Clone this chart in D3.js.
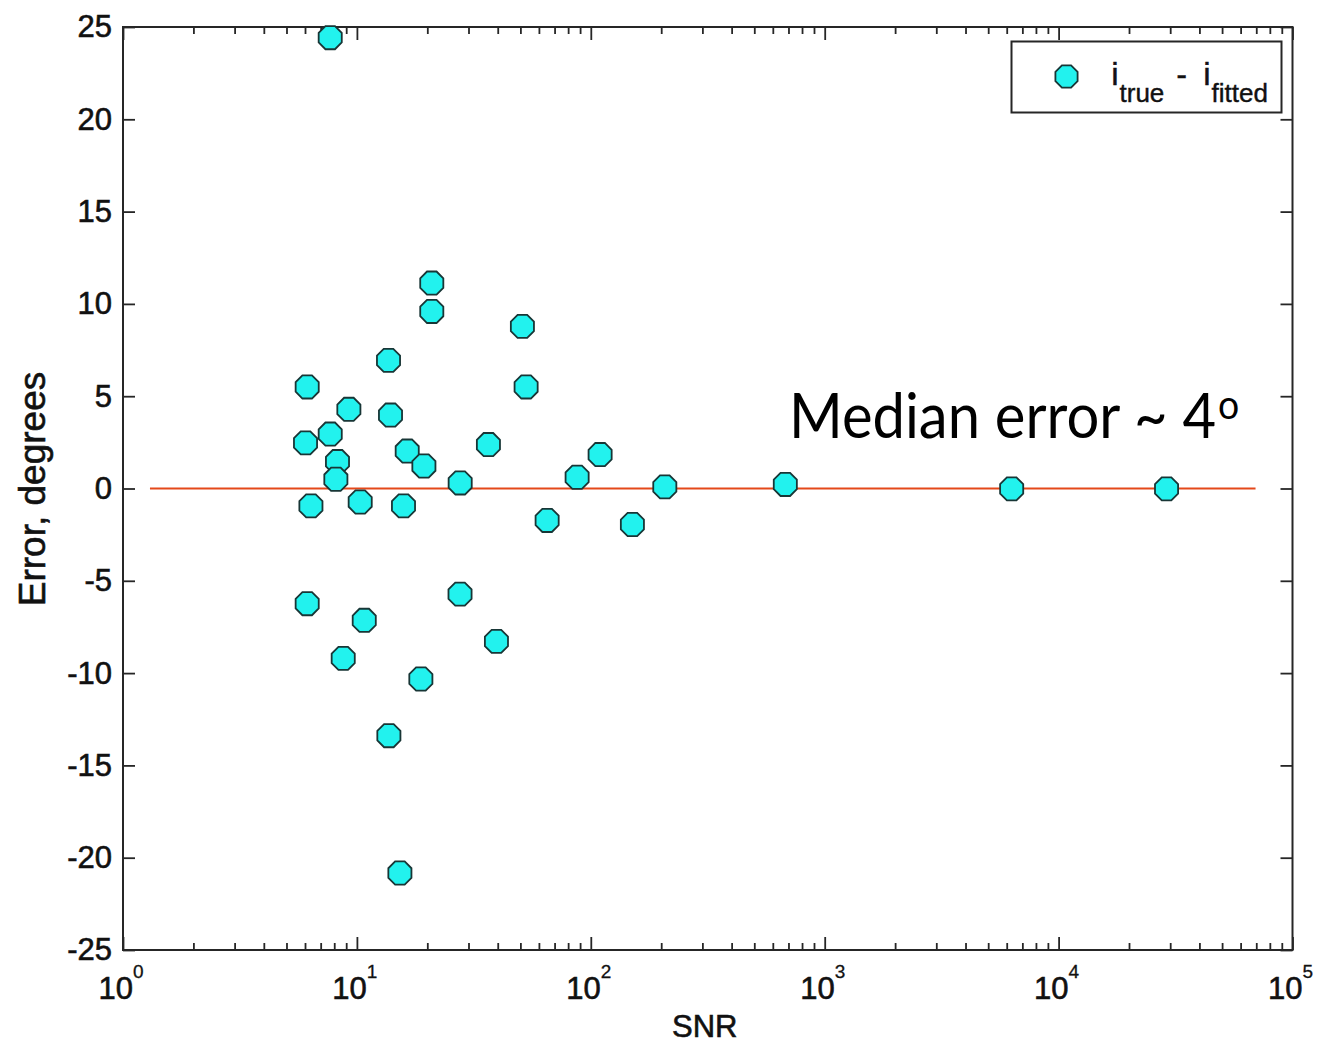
<!DOCTYPE html>
<html>
<head>
<meta charset="utf-8">
<script src="https://cdn.jsdelivr.net/npm/d3@7"></script>
<style>
  body { margin: 0; background: #fff; }
  svg { display: block; }
</style>
</head>
<body>
<svg id="chart" width="1319" height="1046"></svg>
<script>
// Inclination error versus signal-to-noise ratio
const snr = [7.69, 20.9, 20.9, 51.0, 13.65, 6.13, 52.9, 9.24, 13.92, 7.69,
             6.03, 36.5, 16.41, 109.6, 8.26, 19.34, 8.13, 87.4, 27.64, 207.2,
             678.6, 6300, 28940, 6.36, 10.33, 15.82, 65.06, 150.6, 6.13, 27.6,
             10.75, 39.5, 8.74, 18.77, 13.70, 15.27];
const err = [24.42, 11.13, 9.59, 8.78, 6.94, 5.50, 5.50, 4.29, 3.98, 2.95,
             2.47, 2.38, 2.03, 1.84, 1.46, 1.22, 0.50, 0.61, 0.30, 0.09,
             0.22, -0.02, -0.02, -0.94, -0.73, -0.94, -1.73, -1.95, -6.24, -5.72,
             -7.14, -8.28, -9.20, -10.32, -13.39, -20.83];

// zero-error reference line
const lineSnr = [1.304, 69500];
const lineErr = [0, 0];

const xTickValues = [1, 10, 100, 1000, 10000, 100000];
const xTickExponents = ["0", "1", "2", "3", "4", "5"];
const yTickValues = [-25, -20, -15, -10, -5, 0, 5, 10, 15, 20, 25];

const svg = d3.select("#chart");
const plotL = 123, plotR = 1292.5, plotT = 27, plotB = 950;

const x = d3.scaleLog().domain([1, 1e5]).range([plotL, plotR]);
const y = d3.scaleLinear().domain([-25, 25]).range([plotB, plotT]);

const axisColor = "#262626";
const textColor = "#111";
const tickFont = "'Liberation Sans', Arial, sans-serif";

// slightly heavier glyphs for axis text
function heavy(sel, w) {
  sel.attr("stroke", textColor).attr("stroke-width", w).attr("paint-order", "stroke");
}

// minor ticks at 2..9 within each decade
const minorTicks = [];
for (let e = 0; e < 5; e++) for (let k = 2; k <= 9; k++) minorTicks.push(k * Math.pow(10, e));

function styleAxis(sel) {
  sel.select(".domain").remove();
  sel.selectAll(".tick line").attr("stroke", axisColor).attr("stroke-width", 1.8);
  sel.selectAll(".tick text").attr("font-family", tickFont).attr("font-size", 31)
    .attr("fill", textColor).call(heavy, 0.6);
}

// bottom / top axes (ticks point inward)
svg.append("g").attr("transform", `translate(0,${plotB})`)
  .call(d3.axisBottom(x).tickValues(xTickValues).tickSize(-13).tickSizeOuter(0).tickFormat(() => ""))
  .call(styleAxis);
svg.append("g").attr("transform", `translate(0,${plotB})`)
  .call(d3.axisBottom(x).tickValues(minorTicks).tickSize(-7).tickSizeOuter(0).tickFormat(() => ""))
  .call(styleAxis);
svg.append("g").attr("transform", `translate(0,${plotT})`)
  .call(d3.axisTop(x).tickValues(xTickValues).tickSize(-13).tickSizeOuter(0).tickFormat(() => ""))
  .call(styleAxis);
svg.append("g").attr("transform", `translate(0,${plotT})`)
  .call(d3.axisTop(x).tickValues(minorTicks).tickSize(-7).tickSizeOuter(0).tickFormat(() => ""))
  .call(styleAxis);

// left / right axes
svg.append("g").attr("transform", `translate(${plotL},0)`)
  .call(d3.axisLeft(y).tickValues(yTickValues).tickSize(-12).tickSizeOuter(0).tickPadding(11)
    .tickFormat(d => String(d)))
  .call(styleAxis);
svg.append("g").attr("transform", `translate(${plotR},0)`)
  .call(d3.axisRight(y).tickValues(yTickValues).tickSize(-12).tickSizeOuter(0).tickFormat(() => ""))
  .call(styleAxis);

// axes box
svg.append("rect")
  .attr("x", plotL).attr("y", plotT)
  .attr("width", plotR - plotL).attr("height", plotB - plotT)
  .attr("fill", "none").attr("stroke", axisColor).attr("stroke-width", 2);

// x tick labels as powers of ten
const xl = svg.append("g").attr("font-family", tickFont).attr("fill", textColor);
xTickValues.forEach((v, i) => {
  const t = xl.append("text")
    .attr("x", x(v) - 2).attr("y", plotB + 49)
    .attr("text-anchor", "middle");
  t.append("tspan").attr("font-size", 31).call(heavy, 0.6).text("10");
  t.append("tspan").attr("font-size", 19).attr("dy", -21).call(heavy, 0.3).text(xTickExponents[i]);
});

// axis titles
svg.append("text")
  .attr("x", (plotL + plotR) / 2 - 3).attr("y", 1037)
  .attr("text-anchor", "middle")
  .attr("font-family", tickFont).attr("font-size", 31).attr("fill", textColor)
  .call(heavy, 0.6)
  .text("SNR");
svg.append("text")
  .attr("transform", `translate(45,489) rotate(-90)`)
  .attr("text-anchor", "middle")
  .attr("font-family", tickFont).attr("font-size", 37).attr("fill", textColor)
  .call(heavy, 0.6)
  .text("Error, degrees");

// reference line
svg.append("path")
  .datum(lineSnr.map((s, i) => [s, lineErr[i]]))
  .attr("d", d3.line().x(d => x(d[0])).y(d => y(d[1])))
  .attr("fill", "none").attr("stroke", "#e4481a").attr("stroke-width", 2);

// octagonal markers
function octagon(r) {
  const pts = d3.range(8).map(i => {
    const a = Math.PI / 8 + i * Math.PI / 4;
    return [r * Math.cos(a), r * Math.sin(a)];
  });
  return "M" + pts.map(p => p[0].toFixed(2) + "," + p[1].toFixed(2)).join("L") + "Z";
}
const markerPath = octagon(12.5);
const markerFill = "#22f2ee", markerStroke = "#183636";

svg.append("g").selectAll("path")
  .data(snr.map((s, i) => [s, err[i]]))
  .join("path")
  .attr("d", markerPath)
  .attr("transform", d => `translate(${x(d[0])},${y(d[1])})`)
  .attr("fill", markerFill).attr("stroke", markerStroke).attr("stroke-width", 1.8);

// annotation
const ann = svg.append("text")
  .attr("transform", "translate(789,438) scale(0.935,1)")
  .attr("font-family", "Lato, 'Open Sans', sans-serif").attr("font-size", 62).attr("fill", "#000");
ann.append("tspan").text("Median error ~ 4");
ann.append("tspan").attr("font-size", 40).attr("dy", -19).attr("dx", 2).text("o");

// legend
const lg = svg.append("g").attr("transform", "translate(1011.5,41.5)");
lg.append("rect").attr("width", 270).attr("height", 71)
  .attr("fill", "#fff").attr("stroke", axisColor).attr("stroke-width", 2);
lg.append("path").attr("d", octagon(12)).attr("transform", "translate(55,35)")
  .attr("fill", markerFill).attr("stroke", markerStroke).attr("stroke-width", 1.8);
const lt = lg.append("g").attr("font-family", tickFont).attr("fill", textColor);
lt.append("text").attr("x", 100).attr("y", 43.5).attr("font-size", 31).call(heavy, 0.6).text("i");
lt.append("text").attr("x", 108).attr("y", 60).attr("font-size", 26).call(heavy, 0.4).text("true");
lt.append("text").attr("x", 165).attr("y", 43.5).attr("font-size", 31).call(heavy, 0.6).text("-");
lt.append("text").attr("x", 192).attr("y", 43.5).attr("font-size", 31).call(heavy, 0.6).text("i");
lt.append("text").attr("x", 200).attr("y", 60).attr("font-size", 26).call(heavy, 0.4).text("fitted");
</script>
</body>
</html>
